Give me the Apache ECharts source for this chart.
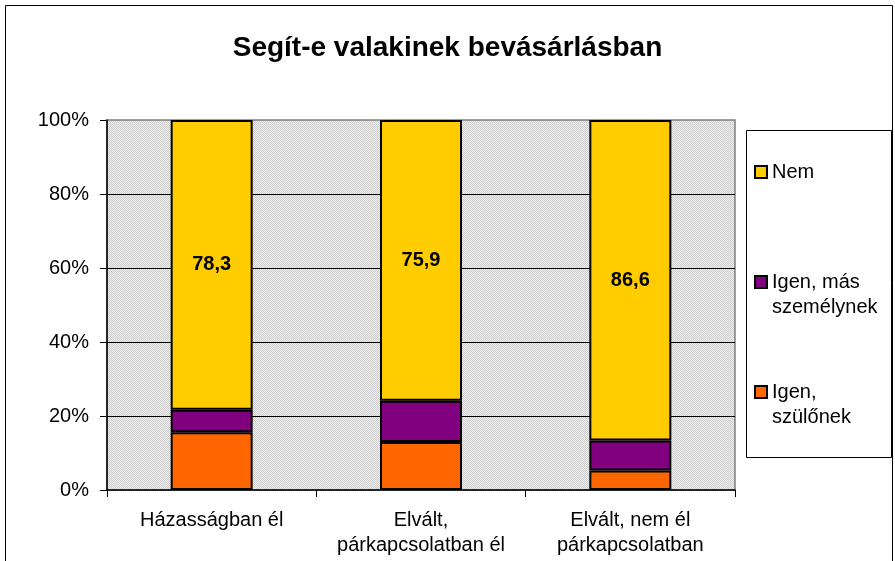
<!DOCTYPE html>
<html>
<head>
<meta charset="utf-8">
<script src="https://cdn.jsdelivr.net/npm/echarts@6/dist/echarts.min.js"></script>
<style>
  html, body { margin: 0; padding: 0; background: #fff; }
  #chart { width: 895px; height: 561px; }
</style>
</head>
<body>
<div id="chart"></div>
<script>
// Household groups on the category axis
const categories = ['Házasságban él', 'Elvált,\npárkapcsolatban él', 'Elvált, nem él\npárkapcsolatban'];

// Share of answers (%) per group
const seriesNames = ['Igen, szülőnek', 'Igen, más személynek', 'Nem'];
const szulonek = [15.6, 13.0, 5.3];
const masSzemelynek = [6.1, 11.1, 8.1];
const nem = [78.3, 75.9, 86.6];

const yTicks = [0, 20, 40, 60, 80, 100];

const FONT = '"Liberation Sans", Arial, sans-serif';

// Fine dotted grey fill for the plotting area
function dotPattern() {
  const c = document.createElement('canvas');
  c.width = 2; c.height = 2;
  const g = c.getContext('2d');
  g.fillStyle = '#eeeeee'; g.fillRect(0, 0, 2, 2);
  g.fillStyle = '#cdcdcd';
  g.fillRect(0, 0, 1, 1);
  g.fillRect(1, 1, 1, 1);
  return { image: c, repeat: 'repeat' };
}

// Wrapped legend names; a blank leading line keeps the first text line beside its marker
const legendText = {
  'Nem': ' \nNem\n ',
  'Igen, más személynek': ' \nIgen, más\nszemélynek',
  'Igen, szülőnek': ' \nIgen,\nszülőnek'
};

const chart = echarts.init(document.getElementById('chart'), null, { renderer: 'canvas' });

const barBase = {
  type: 'bar',
  stack: 'total',
  barWidth: 82,
  emphasis: { disabled: true }
};

chart.setOption({
  animation: false,
  backgroundColor: '#fff',
  textStyle: { fontFamily: FONT },
  title: {
    text: 'Segít-e valakinek bevásárlásban',
    left: 'center',
    top: 29,
    textStyle: { fontFamily: FONT, fontSize: 28, fontWeight: 'bold', color: '#000' }
  },
  graphic: [
    {
      type: 'rect',
      shape: { x: 5.5, y: 5.5, width: 887, height: 620 },
      style: { fill: null, stroke: '#000', lineWidth: 1 },
      z: -10
    },
    {
      type: 'rect',
      shape: { x: 746.5, y: 130.5, width: 145, height: 327 },
      style: { fill: '#fff', stroke: '#000', lineWidth: 1 },
      z: -5
    }
  ],
  legend: {
    orient: 'vertical',
    left: 754,
    top: 134.5,
    padding: 0,
    itemGap: 35,
    itemWidth: 12,
    itemHeight: 12,
    icon: 'rect',
    selectedMode: false,
    data: ['Nem', 'Igen, más személynek', 'Igen, szülőnek'],
    formatter: name => legendText[name],
    textStyle: {
      fontFamily: FONT,
      fontSize: 20,
      color: '#000',
      lineHeight: 25
    }
  },
  grid: {
    left: 107,
    right: 160,
    top: 120,
    bottom: 71,
    show: true,
    backgroundColor: dotPattern(),
    borderColor: '#808080',
    borderWidth: 1.5
  },
  xAxis: {
    type: 'category',
    data: categories,
    axisLine: { lineStyle: { color: '#000', width: 1.5 } },
    axisTick: { show: true, length: 7, lineStyle: { color: '#000' } },
    axisLabel: {
      color: '#000',
      fontFamily: FONT,
      fontSize: 20,
      lineHeight: 25,
      margin: 18,
      interval: 0
    }
  },
  yAxis: {
    type: 'value',
    min: yTicks[0],
    max: yTicks[yTicks.length - 1],
    interval: yTicks[1] - yTicks[0],
    axisLine: { show: true, lineStyle: { color: '#000', width: 1.5 } },
    axisTick: { show: true, length: 7, lineStyle: { color: '#000' } },
    axisLabel: {
      color: '#000',
      fontFamily: FONT,
      fontSize: 20,
      margin: 18,
      formatter: '{value}%'
    },
    splitLine: { show: true, showMaxLine: false, showMinLine: false, lineStyle: { color: '#000', width: 1 } }
  },
  series: [
    Object.assign({}, barBase, {
      name: seriesNames[0],
      data: szulonek,
      itemStyle: { color: '#FF6600', borderColor: '#000', borderWidth: 2 }
    }),
    Object.assign({}, barBase, {
      name: seriesNames[1],
      data: masSzemelynek,
      itemStyle: { color: '#800080', borderColor: '#000', borderWidth: 2 }
    }),
    Object.assign({}, barBase, {
      name: seriesNames[2],
      data: nem,
      itemStyle: { color: '#FFCC00', borderColor: '#000', borderWidth: 2 },
      label: {
        show: true,
        position: 'inside',
        color: '#000',
        fontFamily: FONT,
        fontSize: 20,
        fontWeight: 'bold',
        formatter: p => String(p.value).replace('.', ',')
      }
    })
  ]
});
</script>
</body>
</html>
